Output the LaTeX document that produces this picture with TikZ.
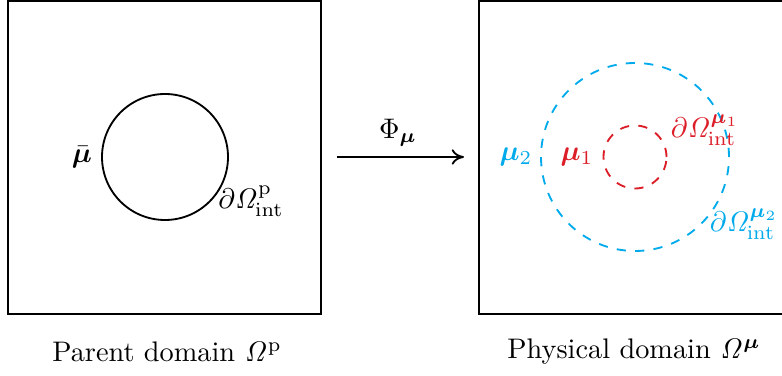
\documentclass[tikz,border=0pt]{standalone}
\usepackage{amsmath,bm}
\usetikzlibrary{arrows.meta}
\definecolor{cblue}{RGB}{0,170,235}
\definecolor{cred}{RGB}{220,30,40}
\tikzset{
  dom/.style={draw, line width=0.6pt},
  lbl/.style={inner sep=0pt, scale=0.92},
}
\begin{document}
\begin{tikzpicture}[x=0.325pt,y=-0.325pt]
\useasboundingbox (0,0) rectangle (782,376);
% left domain
\draw[dom] (8,1) rectangle (321,314);
\node[draw, circle, line width=0.6pt, minimum size=126*0.325pt, inner sep=0pt] (pc) at (165,157) {};
\node[lbl] (mubar) at (82,157) {$\bar{\bm{\mu}}$};
\node[lbl] (dp) at (251,201) {$\partial\mathit{\Omega}^{\mathrm{p}}_{\mathrm{int}}$};
\node[lbl] (cap1) at (167,352) {Parent domain $\mathit{\Omega}^{\mathrm{p}}$};
% arrow
\coordinate (a1) at (337,157);
\coordinate (a2) at (464,157);
\draw[line width=0.6pt, -{To[length=4pt,width=5pt]}] (a1) -- (a2);
\node[lbl] (phi) at (398,133) {$\Phi_{\bm{\mu}}$};
% right domain
\draw[dom] (479,1) rectangle (793,314);
\node[draw=cblue, dashed, circle, line width=0.6pt, minimum size=188*0.325pt, inner sep=0pt] (bc) at (635,157) {};
\node[draw=cred, dashed, circle, line width=0.6pt, minimum size=63*0.325pt, inner sep=0pt] (rc) at (635,157) {};
\node[lbl, text=cblue] (mu2) at (516,157) {$\bm{\mu}_2$};
\node[lbl, text=cred] (mu1) at (577,157) {$\bm{\mu}_1$};
\node[lbl, text=cred] (d1) at (705,130) {$\partial\mathit{\Omega}^{\bm{\mu}_1}_{\mathrm{int}}$};
\node[lbl, text=cblue] (d2) at (744,224) {$\partial\mathit{\Omega}^{\bm{\mu}_2}_{\mathrm{int}}$};
\node[lbl] (cap2) at (634,352) {Physical domain $\mathit{\Omega}^{\bm{\mu}}$};
\end{tikzpicture}
\end{document}
